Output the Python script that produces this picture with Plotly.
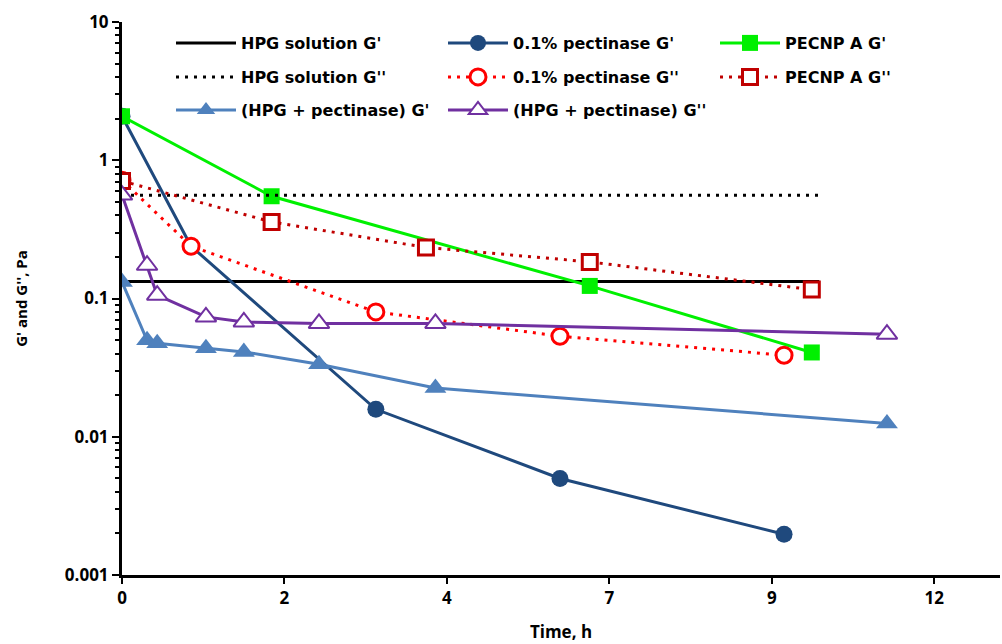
import plotly.graph_objects as go

# Axis ticks (time axis ticks are evenly spaced, 2.4 units apart)
x_ticks = [0, 2.4, 4.8, 7.2, 9.6, 12]
x_ticklabels = ["0", "2", "4", "7", "9", "12"]
y_ticks = [0.001, 0.01, 0.1, 1, 10]
y_ticklabels = ["0.001", "0.01", "0.1", "1", "10"]

# HPG solution (constant reference levels)
hpg_t = [0, 10.3]
hpg_g1 = [0.133, 0.133]
hpg_g2 = [0.558, 0.558]

# 0.1% pectinase
pect_t = [0, 1.02, 3.75, 6.47, 9.78]
pect_g1 = [2.08, 0.239, 0.0158, 0.00499, 0.00197]
pect_g2 = [0.717, 0.239, 0.080, 0.0534, 0.0389]

# PECNP A
pecnp_t1 = [0, 2.21, 6.91, 10.19]
pecnp_g1 = [2.08, 0.549, 0.1233, 0.0407]
pecnp_t2 = [0, 2.21, 4.49, 6.91, 10.19]
pecnp_g2 = [0.708, 0.358, 0.234, 0.184, 0.116]

# HPG + pectinase
mix_t = [0, 0.37, 0.52, 1.24, 1.80, 2.91, 4.63, 11.30]
mix_g1 = [0.1318, 0.0499, 0.0475, 0.0437, 0.0411, 0.0335, 0.0225, 0.01248]
mix_g2 = [0.56, 0.174, 0.1056, 0.0736, 0.0677, 0.066, 0.066, 0.0552]

LEG_FONT = dict(family="DejaVu Sans", size=16, color="black", weight="bold")
TICK_FONT = dict(family="Open Sans", size=17, color="black", weight="bold")

fig = go.Figure()

def add(name, x, y, color, legend, dash="solid",
        symbol=None, msize=0, mfill=None, mline=0):
    mode = "lines" if symbol is None else "lines+markers"
    marker = None
    if symbol is not None:
        marker = dict(symbol=symbol, size=msize,
                      color=mfill if mfill else color,
                      line=dict(color=color, width=mline))
    fig.add_trace(go.Scatter(
        x=x, y=y, name=name, mode=mode, legend=legend,
        line=dict(color=color, width=3, dash=dash),
        marker=marker, showlegend=True))

DOT = "3px,6px"

add("HPG solution G'", hpg_t, hpg_g1, "#000000", "legend")
add("0.1% pectinase G'", pect_t, pect_g1, "#1F497D", "legend",
    symbol="circle", msize=17)
add("PECNP A G'", pecnp_t1, pecnp_g1, "#00F000", "legend",
    symbol="square", msize=16)
add("HPG solution G''", hpg_t, hpg_g2, "#000000", "legend2", dash=DOT)
add("0.1% pectinase G''", pect_t, pect_g2, "#FF0000", "legend2", dash=DOT,
    symbol="circle", msize=16, mfill="white", mline=3)
add("PECNP A G''", pecnp_t2, pecnp_g2, "#C00000", "legend2", dash=DOT,
    symbol="square", msize=15, mfill="white", mline=3)
add("(HPG + pectinase) G'", mix_t, mix_g1, "#4F81BD", "legend3",
    symbol="triangle-up", msize=19)
add("(HPG + pectinase) G''", mix_t, mix_g2, "#7030A0", "legend3",
    symbol="triangle-up", msize=18, mfill="white", mline=2)

L, R, T, B = 122, 2, 22, 69
W, H = 1002, 644
ph = H - T - B
pw = W - L - R

def leg(ypx):
    return dict(orientation="h", x=(171 - L) / pw, xanchor="left",
                y=(H - B - ypx) / ph, yanchor="middle",
                font=LEG_FONT, bgcolor="rgba(0,0,0,0)",
                itemwidth=60, entrywidth=197, entrywidthmode="pixels",
                itemclick=False, itemdoubleclick=False)

minor_vals = [m * 10 ** e for e in range(-3, 1) for m in range(2, 10)]

fig.update_layout(
    width=W, height=H,
    margin=dict(l=L, r=R, t=T, b=B, autoexpand=False),
    paper_bgcolor="white", plot_bgcolor="white",
    legend=leg(43), legend2=leg(77), legend3=leg(110),
    xaxis=dict(
        range=[0, 12.97], tickmode="array", tickvals=x_ticks, ticktext=x_ticklabels,
        showline=True, linecolor="black", linewidth=3, showgrid=False, zeroline=False,
        ticks="outside", ticklen=6, tickwidth=2, tickcolor="black",
        tickfont=TICK_FONT,
        title=dict(text="Time, h", font=TICK_FONT, standoff=18),
    ),
    yaxis=dict(
        type="log", range=[-3, 1], tickmode="array", tickvals=y_ticks, ticktext=y_ticklabels,
        showline=True, linecolor="black", linewidth=3, showgrid=False, zeroline=False,
        ticks="outside", ticklen=7, tickwidth=2, tickcolor="black",
        minor=dict(tickmode="array", tickvals=minor_vals, ticks="outside",
                   ticklen=4, tickwidth=1.5, tickcolor="black", showgrid=False),
        tickfont=TICK_FONT,
        title=dict(text="G' and G'', Pa", font=dict(family="Open Sans", size=15,
                                                  color="black", weight="bold"),
                   standoff=34),
    ),
)

fig.write_html("out.html")
